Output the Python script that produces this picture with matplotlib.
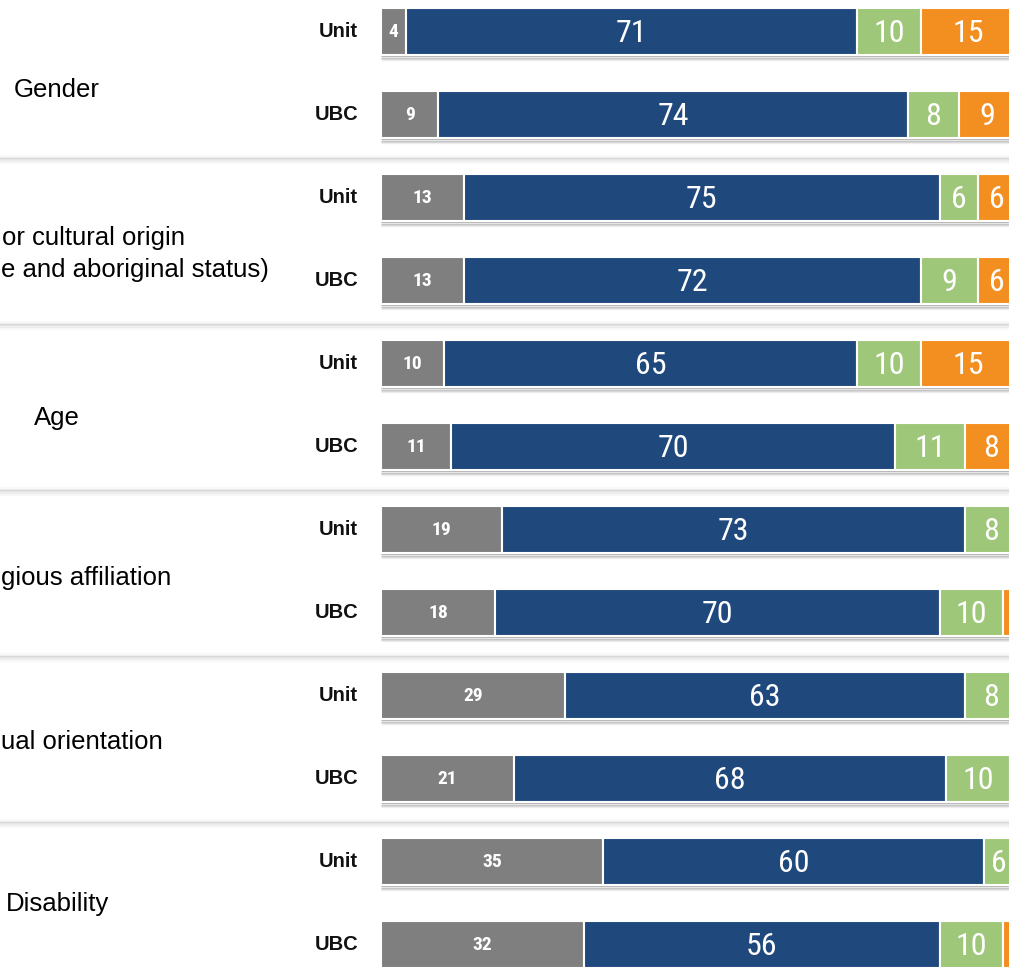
import numpy as np
import matplotlib
matplotlib.use("Agg")
from matplotlib import pyplot as plt
from matplotlib import font_manager

# data, top to bottom
row_labels = ["Unit", "UBC"] * 6
grey_vals = [4, 9, 13, 13, 10, 11, 19, 18, 29, 21, 35, 32]
blue_vals = [71, 74, 75, 72, 65, 70, 73, 70, 63, 68, 60, 56]
green_vals = [10, 8, 6, 9, 10, 11, 8, 10, 8, 10, 6, 10]
orange_vals = [15, 9, 6, 6, 15, 8, 0, 2, 0, 1, 0, 2]

series = [grey_vals, blue_vals, green_vals, orange_vals]
colors = ["#7f7f7f", "#1f497d", "#9fc77a", "#f38f20"]

# pick a narrow font for the numbers if one is installed
names = {f.name for f in font_manager.fontManager.ttflist}
narrow = "Liberation Sans"
for n in ["Liberation Sans Narrow", "Roboto Condensed", "Open Sans Condensed",
          "Noto Sans Display"]:
    if n in names:
        narrow = n
        break
fam = ["Liberation Sans", "DejaVu Sans"]
nfam = [narrow, "Liberation Sans", "DejaVu Sans"]

xmax = 98.9
fig = plt.figure(figsize=(10.09, 9.69), dpi=100)
ax = fig.add_axes([0, 0, 1, 1])
ax.set_xlim(-60, xmax)
ax.set_ylim(11.295, -0.3795)
ax.axis("off")

px = 1 / 83.0  # one pixel in y
y = np.arange(len(row_labels))

# shadows under bars
for i in y:
    total = sum(s[i] for s in series)
    for k, a in enumerate([0.55, 0.4, 0.22, 0.1]):
        ax.plot([0, total], [i + 0.30 + k * 1.3 * px] * 2, color="#7a7a7a",
                lw=1.0, alpha=a, solid_capstyle="butt", zorder=1)

# group separators
for g in range(1, 6):
    yc = 2 * g - 0.5 + 0.04
    for k, a in enumerate([0.08, 0.2, 0.3, 0.2, 0.08]):
        ax.axhline(yc + (k - 2) * 1.6 * px, color="#a0a0a0", lw=1.3, alpha=a, zorder=1)

left = np.zeros(len(y))
for s, c in zip(series, colors):
    vals = np.array(s, dtype=float)
    ax.barh(y, vals, left=left, height=0.566, color=c, edgecolor="white",
            linewidth=1.5, zorder=2)
    for i in y:
        v = vals[i]
        if v >= 3:
            xc = min(left[i] + v / 2, xmax - 1.6)
            if c == colors[0]:
                ax.text(xc, i + 0.01, str(int(v)), ha="center", va="center",
                        color="white", fontsize=14, family=nfam, fontweight="bold", zorder=3)
            else:
                ax.text(xc, i + 0.02, str(int(v)), ha="center", va="center",
                        color="white", fontsize=23, family=nfam, zorder=3)
    left += vals

for i, lab in zip(y, row_labels):
    ax.text(-3.6, i, lab, ha="right", va="center", fontsize=14.5,
            fontweight="bold", family=fam, color="#111111")

# group labels (left part is cut off by the picture edge)
gfs = 18.5
x0 = -60 + 0.1
ax.text(-51, 0.705, "Gender", ha="center", va="center", fontsize=gfs, family=fam)
ax.text(x0 + 0.2, 2.488, "or cultural origin", ha="left", va="center",
        fontsize=gfs, family=fam)
ax.text(x0, 2.873, "e and aboriginal status)", ha="left", va="center",
        fontsize=gfs, family=fam)
ax.text(-51, 4.657, "Age", ha="center", va="center", fontsize=gfs, family=fam)
ax.text(x0, 6.584, "gious affiliation", ha="left", va="center", fontsize=gfs, family=fam)
ax.text(x0, 8.56, "ual orientation", ha="left", va="center", fontsize=gfs, family=fam)
ax.text(-51, 10.51, "Disability", ha="center", va="center", fontsize=gfs, family=fam)

fig.savefig("out.png", dpi=100)
